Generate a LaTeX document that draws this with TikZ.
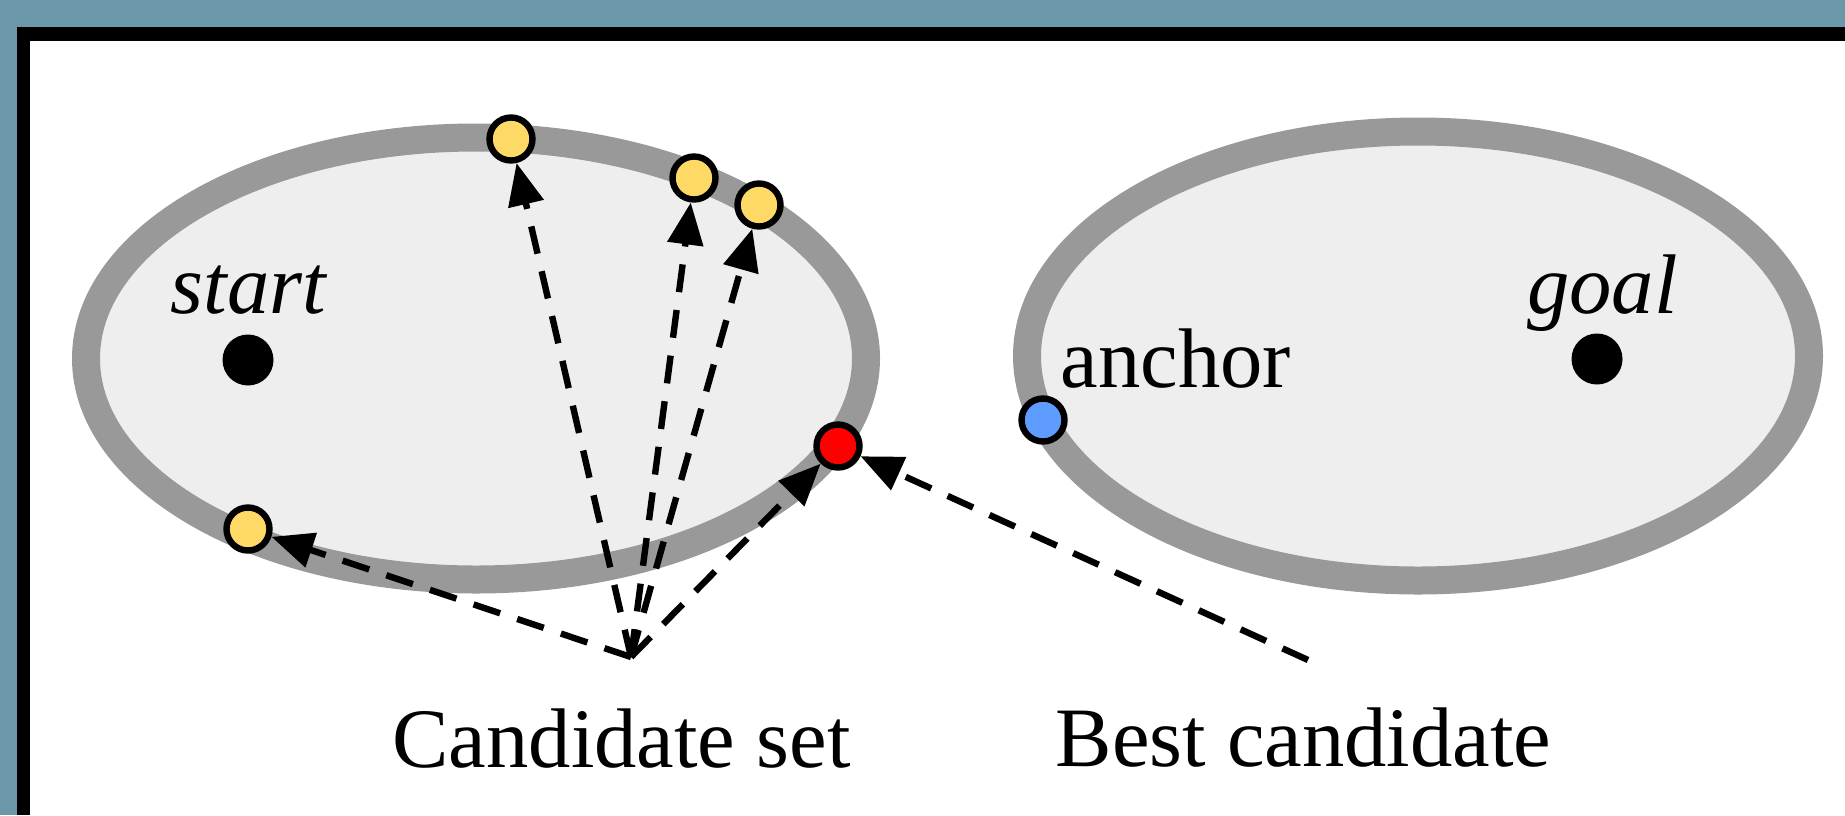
\documentclass[tikz,border=0pt]{standalone}
\usepackage{fontspec}
\setmainfont{Liberation Serif}
\usetikzlibrary{arrows.meta}

\definecolor{framebg}{HTML}{6A98A8}
\definecolor{ringgray}{HTML}{999999}
\definecolor{innergray}{HTML}{EEEEEE}
\definecolor{candyellow}{HTML}{FFD966}
\definecolor{bestred}{HTML}{FF0000}
\definecolor{anchorblue}{HTML}{5E9CFF}

\tikzset{
  region/.style={draw=ringgray, fill=innergray, line width=14pt},
  pt/.style={circle, draw=black, line width=3.2pt, inner sep=0pt, minimum size=21.5pt},
  cand/.style={pt, fill=candyellow},
  bestpt/.style={pt, fill=bestred},
  anchorpt/.style={pt, fill=anchorblue},
  endpt/.style={circle, fill=black, inner sep=0pt, minimum size=25.5pt},
  lbl/.style={font=\fontsize{42.3}{50}\selectfont, inner sep=0pt, anchor=base},
  link/.style={line width=3.2pt, dash pattern=on 14pt off 9pt,
    -{Triangle[length=21pt, width=17.5pt]}},
}

\begin{document}
\begin{tikzpicture}[x=0.5pt, y=-0.5pt]
  \useasboundingbox (0,0) rectangle (1845,815);
  % frame
  \fill[framebg] (0,0) rectangle (1845,815);
  \fill[black] (17,27) rectangle (1845,815);
  \fill[white] (30,41) rectangle (1845,815);

  % the two regions
  \draw[region] (476,358.5) ellipse [x radius=195pt, y radius=110.5pt];
  \draw[region] (1418,356) ellipse [x radius=195.5pt, y radius=112.25pt];

  % start and goal
  \node[endpt] (start) at (248,360) {};
  \node[endpt] (goal) at (1597,359) {};
  \node[lbl] (startlbl) at (248.5,313) {\itshape start};
  \node[lbl] (goallbl) at (1602.5,313) {\itshape goal};

  % points on the boundaries
  \node[cand] (c1) at (511,139) {};
  \node[cand] (c2) at (694,178) {};
  \node[cand] (c3) at (759,205) {};
  \node[cand] (c4) at (248,529) {};
  \node[bestpt] (best) at (838,446) {};
  \node[anchorpt] (anc) at (1043,420) {};
  \node[lbl] (anclbl) at (1176,387) {anchor};

  % labels and connectors
  \coordinate (cs) at (631,657);
  \coordinate (bs) at (1308,660);
  \node[lbl] (cslbl) at (621.5,767) {Candidate set};
  \node[lbl] (bslbl) at (1303.5,766) {Best candidate};

  \draw[link] (cs) -- (c1);
  \draw[link] (cs) -- (c2);
  \draw[link] (cs) -- (c3);
  \draw[link] (cs) -- (c4);
  \draw[link] (cs) -- (best);
  \draw[link] (bs) -- (best);
\end{tikzpicture}
\end{document}
